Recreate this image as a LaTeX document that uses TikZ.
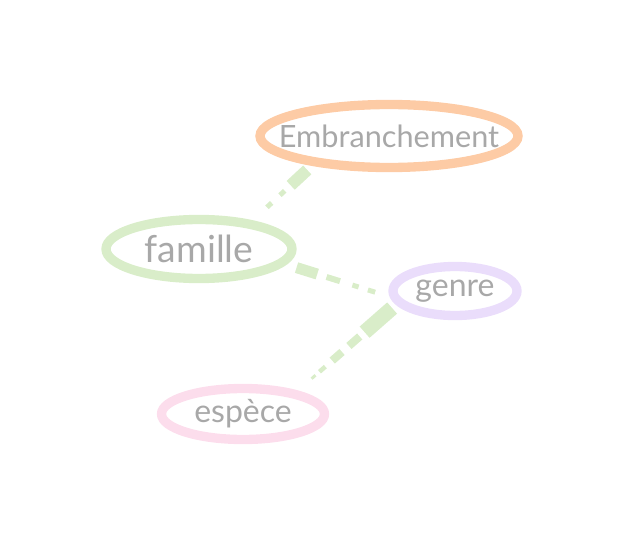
\documentclass[tikz,border=0pt]{standalone}
\usepackage{fontspec}
\setmainfont{Lato}
\usepackage{tikz}
\usetikzlibrary{positioning,shapes.geometric,calc}
\usepackage{xcolor}
\definecolor{peach}{HTML}{FDCBA5}
\definecolor{sage}{HTML}{D9EDC9}
\definecolor{lilac}{HTML}{EADDFB}
\definecolor{blush}{HTML}{FCDDEC}
\definecolor{inkgray}{HTML}{A8A8A8}

\begin{document}
\begin{tikzpicture}[
    x=0.75pt,y=-0.75pt,on grid,
    taxon/.style={ellipse,draw,line width=7pt,inner sep=0pt,font=\fontsize{24}{28}\selectfont,text=inkgray},
    link/.style={sage,line cap=butt}
]
\useasboundingbox (0,0) rectangle (623,545);

\node[taxon,draw=peach,minimum width=193.5pt,minimum height=47.25pt,font=\fontsize{23}{27}\selectfont] (E) at (389,136) {\makebox[0pt]{Embranchement}};
\node[taxon,draw=sage,minimum width=139.5pt,minimum height=44.25pt,font=\fontsize{28}{31}\selectfont,below left=84.75pt and 142.5pt of E] (F) {\makebox[0pt]{famille}};
\node[taxon,draw=lilac,minimum width=93pt,minimum height=36.75pt,below right=31.5pt and 192pt of F] (G) {\makebox[0pt]{genre}};
\node[taxon,draw=blush,minimum width=122.25pt,minimum height=38.25pt,below left=92.25pt and 159pt of G] (S) {\makebox[0pt]{espèce}};

% tapering dashes
\foreach \a/\b/\w in {0.08/0.36/9pt,0.46/0.54/3.75pt,0.68/0.76/3.75pt}
  \draw[link,line width=\w] ($(E.201)!\a!(F.28)$) -- ($(E.201)!\b!(F.28)$);
\foreach \a/\b/\w in {0.10/0.30/8.25pt,0.39/0.52/4.5pt,0.64/0.70/3.75pt,0.79/0.86/3.75pt}
  \draw[link,line width=\w] ($(F.350)!\a!(G.185)$) -- ($(F.350)!\b!(G.185)$);
\foreach \a/\b/\w in {0.04/0.32/11.25pt,0.37/0.48/6pt,0.55/0.65/6pt,0.72/0.78/3.4pt,0.82/0.86/2.25pt}
  \draw[link,line width=\w] ($(G.193)!\a!(S.23)$) -- ($(G.193)!\b!(S.23)$);
\end{tikzpicture}
\end{document}
